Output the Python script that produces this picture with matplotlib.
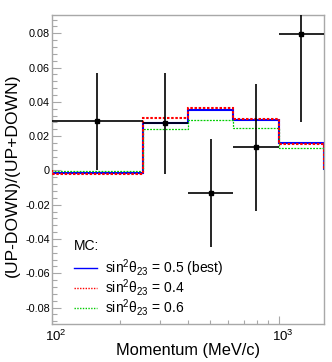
import numpy as np
import matplotlib
matplotlib.use("Agg")
import matplotlib.pyplot as plt
from matplotlib.lines import Line2D
from matplotlib.ticker import FixedLocator, NullFormatter
import matplotlib.transforms as mtransforms

plt.rcParams['font.family'] = ['Liberation Sans', 'DejaVu Sans']
plt.rcParams['mathtext.fontset'] = 'custom'
plt.rcParams['mathtext.rm'] = 'Liberation Sans'
plt.rcParams['mathtext.it'] = 'Liberation Sans:italic'
plt.rcParams['mathtext.bf'] = 'Liberation Sans:bold'
plt.rcParams['axes.unicode_minus'] = False

# ---- data ----
bin_edges = [100, 251, 398, 631, 1000, 1585]
data_x = [158, 316, 501, 794, 1259]
data_y = [0.0286, 0.0275, -0.0132, 0.0134, 0.0795]
data_err = [0.0283, 0.0293, 0.0316, 0.0373, 0.0512]

mc_best = [-0.0015, 0.0277, 0.0353, 0.0296, 0.0162]   # sin2 = 0.5
mc_04 = [-0.0021, 0.0308, 0.0367, 0.0298, 0.0156]     # sin2 = 0.4
mc_06 = [-0.0004, 0.0244, 0.0295, 0.0248, 0.0129]     # sin2 = 0.6

legend_title = "MC:"
legend_labels = [r"sin$^{2}$θ$_{23}$ = 0.5 (best)",
                 r"sin$^{2}$θ$_{23}$ = 0.4",
                 r"sin$^{2}$θ$_{23}$ = 0.6"]

ytick_vals = [-0.08, -0.06, -0.04, -0.02, 0.0, 0.02, 0.04, 0.06, 0.08]
ytick_labels = ["-0.08", "-0.06", "-0.04", "-0.02", "0", "0.02", "0.04", "0.06", "0.08"]
xtick_vals = [100, 1000]
xtick_labels = [r"$10^{2}$", r"$10^{3}$"]
xlabel = "Momentum (MeV/c)"
ylabel = "(UP-DOWN)/(UP+DOWN)"

# ---- figure ----
W, H = 332, 362
fig = plt.figure(figsize=(W / 100, H / 100), dpi=100)
ax = fig.add_axes([52 / W, 1 - 323.5 / H, 272 / W, 308.5 / H])

edges = np.array(bin_edges, dtype=float)
ax.stairs(mc_best, edges, baseline=0, color='#0000ff', lw=1.5, zorder=2)
ax.stairs(mc_04, edges, baseline=0, color='#ff0000', lw=1.5,
          linestyle=(0, (1.2, 0.8)), zorder=3)
ax.stairs(mc_06, edges, baseline=0, color='#00cc00', lw=0.9,
          linestyle=(0, (1.5, 1.0)), zorder=2.5)

xlo = edges[:-1]
xhi = edges[1:]
dx = np.array(data_x, dtype=float)
ax.errorbar(dx, data_y, yerr=data_err,
            xerr=[dx - xlo, xhi - dx], fmt='s', color='black',
            ms=3.0, lw=1.2, capsize=0, zorder=5)

ax.set_xscale('log')
ax.set_xlim(100, 10 ** 3.2)
ax.set_ylim(-0.0893, 0.0907)

# axes styling (ROOT-like)
spine_col = '#a8a8a8'
for s in ax.spines.values():
    s.set_color(spine_col)
    s.set_linewidth(1.0)

ax.yaxis.set_major_locator(FixedLocator(ytick_vals))
ax.set_yticklabels(ytick_labels)
ax.yaxis.set_minor_locator(FixedLocator(np.arange(-0.088, 0.0905, 0.004)))
ax.xaxis.set_major_locator(FixedLocator(xtick_vals))
ax.set_xticklabels(xtick_labels)
ax.xaxis.set_minor_locator(FixedLocator([200, 300, 400, 500, 600, 700, 800, 900]))
ax.xaxis.set_minor_formatter(NullFormatter())

ax.tick_params(axis='y', which='major', direction='in', length=6.5, width=0.8,
               color=spine_col, labelsize=7.8, pad=1.5, left=True, right=False)
ax.tick_params(axis='y', which='minor', direction='in', length=3.5, width=0.8,
               color=spine_col, left=True, right=False)
ax.tick_params(axis='x', which='major', direction='in', length=6, width=0.8,
               color=spine_col, labelsize=9.5, pad=4, bottom=True, top=False)
ax.tick_params(axis='x', which='minor', direction='in', length=3, width=0.8,
               color=spine_col, bottom=True, top=False)

offset = mtransforms.ScaledTranslation(4 / 100, 0, fig.dpi_scale_trans)
for lab in ax.get_xticklabels():
    lab.set_transform(lab.get_transform() + offset)

fig.text(188.5 / W, 1 - 351 / H, xlabel, fontsize=11.8, ha='center', va='center')
fig.text(12.5 / W, 1 - 175 / H, ylabel, fontsize=12.6, ha='center', va='center',
         rotation=90)

# legend
handles = [Line2D([], [], color='#0000ff', lw=1.0),
           Line2D([], [], color='#ff0000', lw=1.0, linestyle=(0, (1, 1))),
           Line2D([], [], color='#00cc00', lw=1.0, linestyle=(0, (1, 1)))]
leg = ax.legend(handles, legend_labels, title=legend_title, loc='upper left',
                bbox_to_anchor=(74 / W, 1 - 239 / H), bbox_transform=fig.transFigure,
                frameon=False, fontsize=10, title_fontsize=10, alignment='left',
                handlelength=1.65, handletextpad=0.6, labelspacing=-0.1,
                borderpad=0.0, borderaxespad=0.0)
leg._legend_box.sep = 3

fig.savefig("out.png", dpi=100)
